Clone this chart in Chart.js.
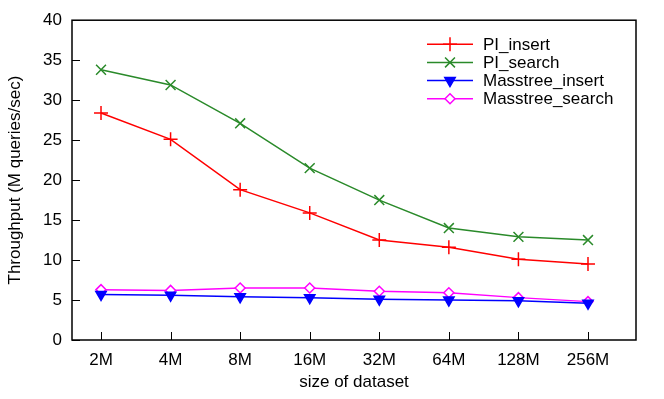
<!DOCTYPE html>
<html>
<head>
<meta charset="utf-8">
<script src="https://cdn.jsdelivr.net/npm/chart.js@4/dist/chart.umd.min.js"></script>
<style>
  html, body { margin: 0; padding: 0; background: #fff; }
  #wrap { width: 664px; height: 399px; }
</style>
</head>
<body>
<div id="wrap"><canvas id="tputChart"></canvas></div>
<script>
// dataset sizes on x axis
const sizes = ['2M', '4M', '8M', '16M', '32M', '64M', '128M', '256M'];

// throughput, M queries/sec
const piInsert = [28.4, 25.1, 18.8, 15.9, 12.5, 11.6, 10.1, 9.5];
const piSearch = [33.8, 31.9, 27.1, 21.5, 17.5, 14.0, 12.9, 12.5];
const massInsert = [5.7, 5.6, 5.4, 5.3, 5.1, 5.0, 4.9, 4.6];
const massSearch = [6.3, 6.2, 6.5, 6.5, 6.1, 5.9, 5.3, 4.8];

const yTicks = [0, 5, 10, 15, 20, 25, 30, 35, 40];

const FONT = "'Liberation Sans', Arial, Helvetica, sans-serif";
const FSIZE = 17;

function pts(arr) {
    return arr.map((v, i) => ({ x: i, y: v }));
}

function series(label, values, color, style, extra) {
    return Object.assign({
        label: label,
        data: pts(values),
        borderColor: color,
        backgroundColor: color,
        borderWidth: 1.5,
        pointStyle: style,
        pointRadius: 7,
        pointBorderWidth: 1.5,
        pointBorderColor: color,
        pointBackgroundColor: color,
        tension: 0,
        fill: false
    }, extra || {});
}

// frame + inward ticks
const framePlugin = {
    id: 'frame',
    afterDraw(chart) {
        const c = chart.ctx, a = chart.chartArea;
        const xs = chart.scales.x, ys = chart.scales.y;
        c.save();
        c.strokeStyle = '#000';
        c.lineWidth = 1.5;
        c.strokeRect(a.left, a.top, a.right - a.left, a.bottom - a.top);
        c.lineWidth = 1;
        c.beginPath();
        yTicks.forEach(v => {
            const y = Math.round(ys.getPixelForValue(v)) + 0.5;
            c.moveTo(a.left, y);
            c.lineTo(a.left + 8, y);
        });
        sizes.forEach((s, i) => {
            const x = Math.round(xs.getPixelForValue(i)) + 0.5;
            c.moveTo(x, a.bottom);
            c.lineTo(x, a.bottom - 8);
        });
        c.stroke();
        c.restore();
    }
};

// legend inside plot, top right
const legendPlugin = {
    id: 'innerLegend',
    afterDraw(chart) {
        const c = chart.ctx, a = chart.chartArea;
        const x0 = a.right - 209, x1 = a.right - 163;
        c.save();
        c.font = FSIZE + 'px ' + FONT;
        c.textBaseline = 'middle';
        chart.data.datasets.forEach((ds, i) => {
            const y = a.top + 24 + i * 18.2;
            c.strokeStyle = ds.borderColor;
            c.lineWidth = ds.borderWidth;
            c.beginPath();
            c.moveTo(x0, y);
            c.lineTo(x1, y);
            c.stroke();
            c.fillStyle = ds.pointBackgroundColor;
            c.lineWidth = ds.pointBorderWidth;
            Chart.helpers.drawPoint(c, {
                pointStyle: ds.pointStyle,
                radius: ds.pointRadius,
                rotation: ds.pointRotation || 0,
                borderWidth: ds.pointBorderWidth
            }, (x0 + x1) / 2, y);
            c.fillStyle = '#000';
            c.fillText(ds.label, x1 + 10, y + 1);
        });
        c.restore();
    }
};

const ctx = document.getElementById('tputChart').getContext('2d');

new Chart(ctx, {
    type: 'line',
    data: {
        datasets: [
            series('PI_insert', piInsert, '#ff0000', 'cross'),
            series('PI_search', piSearch, '#2a8a2a', 'crossRot'),
            series('Masstree_insert', massInsert, '#0000ff', 'triangle', { pointRotation: 180, pointRadius: 6 }),
            series('Masstree_search', massSearch, '#ff00ff', 'rectRot', { pointBackgroundColor: '#ffffff', pointRadius: 5 })
        ]
    },
    options: {
        responsive: true,
        maintainAspectRatio: false,
        animation: false,
        layout: { padding: { left: 0, top: 20, right: 28, bottom: 0 } },
        plugins: {
            legend: { display: false },
            tooltip: { enabled: false }
        },
        scales: {
            x: {
                type: 'linear',
                min: -0.417,
                max: 7.69,
                afterFit: s => { s.height = 59; },
                afterBuildTicks: s => { s.ticks = sizes.map((_, i) => ({ value: i })); },
                grid: { display: false, drawTicks: false },
                border: { display: false },
                ticks: {
                    padding: 10,
                    color: '#000',
                    font: { family: FONT, size: FSIZE },
                    callback: v => sizes[v]
                },
                title: {
                    display: true,
                    text: 'size of dataset',
                    color: '#000',
                    font: { family: FONT, size: FSIZE },
                    padding: { top: 0, bottom: 6 }
                }
            },
            y: {
                min: 0,
                max: 40,
                afterFit: s => { s.width = 72; },
                afterBuildTicks: s => { s.ticks = yTicks.map(v => ({ value: v })); },
                grid: { display: false, drawTicks: false },
                border: { display: false },
                ticks: {
                    padding: 10,
                    color: '#000',
                    font: { family: FONT, size: FSIZE }
                },
                title: {
                    display: true,
                    text: 'Throughput (M queries/sec)',
                    color: '#000',
                    font: { family: FONT, size: FSIZE },
                    padding: { top: 5, bottom: 0 }
                }
            }
        }
    },
    plugins: [framePlugin, legendPlugin]
});
</script>
</body>
</html>
